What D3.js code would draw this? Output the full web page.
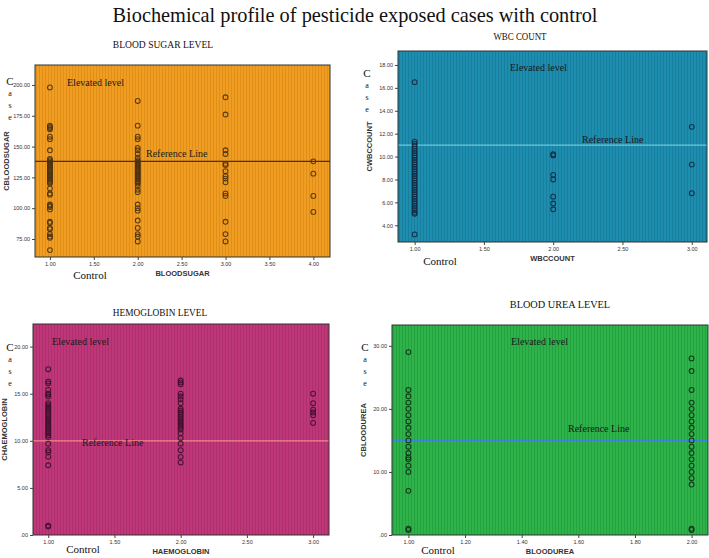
<!DOCTYPE html>
<html><head><meta charset="utf-8">
<script src="https://cdn.jsdelivr.net/npm/d3@7"></script>
<style>body{margin:0;background:#fff}svg{display:block}</style>
</head><body>
<svg id="c" width="709" height="558"></svg>
<script>
// ---------- data ----------
const mainTitle = "Biochemical profile of pesticide exposed cases with control";
const panelTitles = ["BLOOD SUGAR LEVEL", "WBC COUNT", "HEMOGLOBIN LEVEL", "BLOOD UREA  LEVEL"];
const xTitles = ["BLOODSUGAR", "WBCCOUNT", "HAEMOGLOBIN", "BLOODUREA"];
const yTitles = ["CBLOODSUGAR", "CWBCCOUNT", "CHAEMOGLOBIN", "CBLOODUREA"];

const sugarXTicks = [1, 1.5, 2, 2.5, 3, 3.5, 4];
const sugarYTicks = [75, 100, 125, 150, 175, 200];
const wbcXTicks = [1, 1.5, 2, 2.5, 3];
const wbcYTicks = [4, 6, 8, 10, 12, 14, 16, 18];
const hbXTicks = [1, 1.5, 2, 2.5, 3];
const hbYTicks = [0, 5, 10, 15, 20];
const ureaXTicks = [1, 1.2, 1.4, 1.6, 1.8, 2];
const ureaYTicks = [0, 10, 20, 30];

const sugarRef = 138, wbcRef = 11, hbRef = 10, ureaRef = 15;

// case values per control group (x value)
const sugarG1 = [198,167,166,165,164,158,156,147,140,139,138,137,136,135,134,133,132,131,130,129,128,127,126,125,124,123,122,121,120,116,112,111,103,102,101,99,89,88,84,83,79,77,76,66];
const sugarG2 = [187,167,158,156,149,147,144,141,139,138,137,136,135,134,133,132,131,130,129,128,127,126,125,124,123,122,121,120,118,115,113,103,100,98,90,84,79,77,73];
const sugarG3 = [190,176,147,144,136,135,130,126,124,121,112,110,89,79,73];
const sugarG4 = [138,128,110,97];

const wbcG1 = [16.5,11.3,11.1,10.9,10.7,10.5,10.3,10.1,9.9,9.7,9.5,9.3,9.1,8.9,8.7,8.5,8.3,8.1,7.9,7.7,7.5,7.3,7.1,6.9,6.7,6.5,6.3,6.1,5.9,5.7,5.5,5.3,5.1,5.0,3.2];
const wbcG2 = [10.2,10.1,8.4,8.0,6.5,5.9,5.4];
const wbcG3 = [12.6,9.3,6.8];

const hbG1 = [17.6,16.3,16.1,15.4,15.0,14.9,14.7,14.0,13.8,13.6,13.4,13.2,13.0,12.8,12.6,12.4,12.2,12.0,11.8,11.6,11.4,11.2,11.0,10.8,10.6,10.4,9.7,9.0,8.8,8.3,7.4,1.0,0.9];
const hbG2 = [16.4,16.2,16.0,15.0,14.7,14.4,14.0,13.4,13.2,13.0,12.8,12.6,12.4,12.2,12.0,11.8,11.6,11.4,11.2,10.8,10.3,9.7,9.0,8.3,7.7];
const hbG3 = [15.0,14.0,13.3,13.0,12.7,11.9];

const ureaG1 = [29,23,22,21,20,19,18,17,16,15,14,13,12.3,12,11,10,7,1.0,0.8];
const ureaG2 = [28,26,23,21,20,19,18,17,16,15,14,13,12,11,10,9,8,1.0,0.8];

// ---------- layout / style config ----------
const panels = [
  { rect:[35,65,330,257], xDom:[0.83,4.19], yDom:[60.4,216.2], xTicks:sugarXTicks, yTicks:sugarYTicks,
    groups:[[1,sugarG1],[2,sugarG2],[3,sugarG3],[4,sugarG4]], ref:sugarRef,
    fill:"#f19d22", stripe:"#de8f1a", refColor:"#4a3318", pt:"#4a3212",
    title:[163,48], caseXY:[10,81], elev:[67,86], refLbl:[146,157], ctrl:[90,279] },
  { rect:[398,51,707,242], xDom:[0.88,3.11], yDom:[2.54,19.22], xTicks:wbcXTicks, yTicks:wbcYTicks,
    groups:[[1,wbcG1],[2,wbcG2],[3,wbcG3]], ref:wbcRef,
    fill:"#1d8db0", stripe:"#197d9c", refColor:"#6cc9dc", pt:"#14283e",
    title:[520,40], caseXY:[367,73], elev:[510,71], refLbl:[582,143], ctrl:[440,265] },
  { rect:[33,324,329,535], xDom:[0.885,3.12], yDom:[0,22.4], xTicks:hbXTicks, yTicks:hbYTicks,
    groups:[[1,hbG1],[2,hbG2],[3,hbG3]], ref:hbRef,
    fill:"#bf3779", stripe:"#ab306d", refColor:"#f08a8a", pt:"#3d0f2c",
    title:[160,316], caseXY:[10,347], elev:[52,345], refLbl:[82,446], ctrl:[83,553] },
  { rect:[392,325,708,535], xDom:[0.942,2.058], yDom:[0,33.3], xTicks:ureaXTicks, yTicks:ureaYTicks,
    groups:[[1,ureaG1],[2,ureaG2]], ref:ureaRef,
    fill:"#2db34a", stripe:"#25a140", refColor:"#3f7fe0", pt:"#0f3014",
    title:[560,308], caseXY:[365,347], elev:[511,345], refLbl:[568,432], ctrl:[438,554] }
];

const svg = d3.select("#c");
const serif = "'Liberation Serif','Times New Roman',serif";
const sans = "'Liberation Sans',Arial,sans-serif";

svg.append("text").attr("x",355).attr("y",22).attr("text-anchor","middle")
  .attr("font-family",serif).attr("font-size",22).attr("fill","#111")
  .attr("textLength",485).attr("lengthAdjust","spacingAndGlyphs").text(mainTitle);

const defs = svg.append("defs");
const tickFmt = v => { const s = d3.format(".2f")(v); return s.startsWith("0.") ? s.slice(1) : s; };

panels.forEach((p,i) => {
  const [x0,y0,x1,y1] = p.rect;
  const x = d3.scaleLinear().domain(p.xDom).range([x0,x1]);
  const y = d3.scaleLinear().domain(p.yDom).range([y1,y0]);

  const pat = defs.append("pattern").attr("id","pat"+i).attr("patternUnits","userSpaceOnUse")
    .attr("width",3).attr("height",4);
  pat.append("rect").attr("width",3).attr("height",4).attr("fill",p.fill);
  pat.append("rect").attr("x",0).attr("width",1).attr("height",4).attr("fill",p.stripe);

  const g = svg.append("g");
  g.append("rect").attr("x",x0).attr("y",y0).attr("width",x1-x0).attr("height",y1-y0)
    .attr("fill","url(#pat"+i+")");

  // panel title
  svg.append("text").attr("x",p.title[0]).attr("y",p.title[1]).attr("text-anchor","middle")
    .attr("font-family",serif).attr("font-size",9.5).attr("fill","#111")
    .attr("textLength",panelTitles[i].length*5.9).attr("lengthAdjust","spacingAndGlyphs")
    .text(panelTitles[i]);

  // reference line
  g.append("line").attr("x1",x0).attr("x2",x1).attr("y1",y(p.ref)).attr("y2",y(p.ref))
    .attr("stroke",p.refColor).attr("stroke-width",1.2);

  // points
  const pts = p.groups.flatMap(([gx,vals]) => vals.map(v => ({x:gx, v})));
  g.selectAll("circle.pt").data(pts).join("circle").attr("class","pt")
    .attr("cx",d=>x(d.x)).attr("cy",d=>y(d.v)).attr("r",2.4)
    .attr("fill","none").attr("stroke",p.pt).attr("stroke-width",1.05).attr("stroke-opacity",0.9);

  // frame
  g.append("rect").attr("x",x0).attr("y",y0).attr("width",x1-x0).attr("height",y1-y0)
    .attr("fill","none").attr("stroke","#333").attr("stroke-width",1);

  // axes
  const ax = d3.axisBottom(x).tickValues(p.xTicks).tickFormat(tickFmt).tickSize(3).tickPadding(2);
  const ay = d3.axisLeft(y).tickValues(p.yTicks).tickFormat(tickFmt).tickSize(3).tickPadding(2);
  const gx = g.append("g").attr("transform",`translate(0,${y1})`).call(ax);
  const gy = g.append("g").attr("transform",`translate(${x0},0)`).call(ay);
  [gx,gy].forEach(a => {
    a.select(".domain").remove();
    a.selectAll("line").attr("stroke","#444");
    a.selectAll("text").attr("font-family",sans).attr("font-size",5.5).attr("fill","#333");
  });

  // axis titles
  g.append("text").attr("x",(x0+x1)/2).attr("y",y1+19).attr("text-anchor","middle")
    .attr("font-family",sans).attr("font-weight","bold").attr("font-size",7.5).attr("fill","#333")
    .text(xTitles[i]);
  g.append("text").attr("transform",`translate(${x0-26},${(y0+y1)/2}) rotate(-90)`)
    .attr("text-anchor","middle").attr("font-family",sans).attr("font-weight","bold")
    .attr("font-size",7.5).attr("fill","#333").text(yTitles[i]);

  // annotations
  const [cx,cy] = p.caseXY;
  g.append("text").attr("x",cx).attr("y",cy+4).attr("text-anchor","middle")
    .attr("font-family",serif).attr("font-size",11).attr("fill","#111").text("C");
  ["a","s","e"].forEach((ch,k) => {
    g.append("text").attr("x",cx).attr("y",cy+15+k*12).attr("text-anchor","middle")
      .attr("font-family",serif).attr("font-size",8).attr("fill","#111").text(ch);
  });
  g.append("text").attr("x",p.elev[0]).attr("y",p.elev[1]).attr("font-family",serif)
    .attr("font-size",10).attr("fill","#1a1a1a").text("Elevated level");
  g.append("text").attr("x",p.refLbl[0]).attr("y",p.refLbl[1]).attr("font-family",serif)
    .attr("font-size",10).attr("fill","#1a1a1a").text("Reference Line");
  g.append("text").attr("x",p.ctrl[0]).attr("y",p.ctrl[1]).attr("text-anchor","middle")
    .attr("font-family",serif).attr("font-size",11).attr("fill","#111").text("Control");
});
</script>
</body></html>
